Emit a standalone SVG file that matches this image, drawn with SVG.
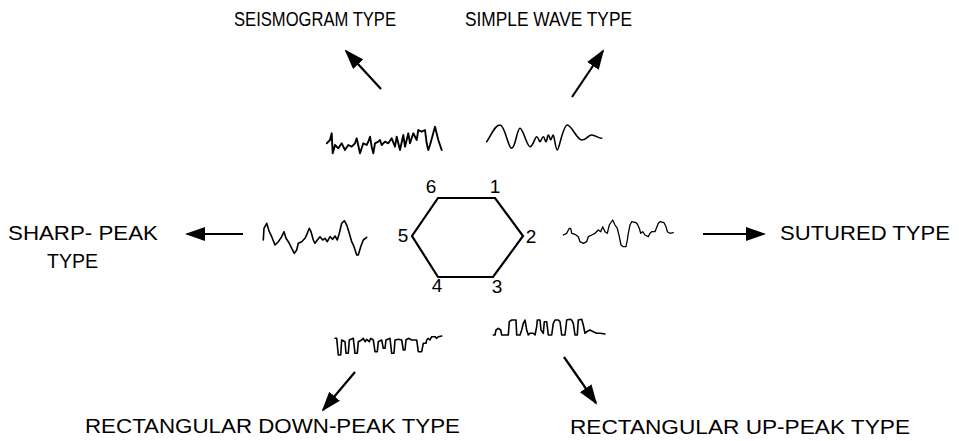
<svg xmlns="http://www.w3.org/2000/svg" width="959" height="441" viewBox="0 0 959 441">
<defs>
<style>
.lbl{font-family:"Liberation Sans","DejaVu Sans",Arial,sans-serif;font-size:20px;fill:#000}
.num{font-family:"Liberation Sans","DejaVu Sans",Arial,sans-serif;font-size:19px;fill:#000;text-anchor:middle}
.wave{fill:none;stroke:#000;stroke-width:1.6;stroke-linejoin:round;stroke-linecap:round}
.arr{fill:none;stroke:#000;stroke-width:2.2;marker-end:url(#ah)}
</style>
<marker id="ah" markerUnits="userSpaceOnUse" viewBox="0 0 20 14" refX="18" refY="7" markerWidth="20" markerHeight="14" orient="auto">
<path d="M0,0 L20,7 L0,14 z" fill="#000"/>
</marker>
</defs>
<rect width="959" height="441" fill="#fff"/>

<g id="hexagon">
<polygon points="438,198 495,198 523,236 493,277 438,277 412,236" fill="none" stroke="#000" stroke-width="2.2" stroke-linejoin="miter"/>
<text class="num" x="431" y="193">6</text>
<text class="num" x="495" y="193">1</text>
<text class="num" x="531" y="243">2</text>
<text class="num" x="403" y="242">5</text>
<text class="num" x="437" y="292">4</text>
<text class="num" x="497" y="293">3</text>
</g>

<g id="seismogram">
<polyline class="wave" style="stroke-width:1.9" points="326.7,143.3 330,140 331.7,133.3 332.7,153.3 335,145 338.3,148.3 341.7,143.3 345,150 348.3,145 351.7,146.7 355,143.3 356.7,138.3 360,153.3 363.3,143.3 366.7,145 368.3,141.7 370,136.7 371.7,146.7 373.3,153.3 375,143.3 378.3,141.7 380,140 381.7,145 385,141.7 388.3,143.3 391.7,138.3 395,146.7 396.7,136.7 400,150 403.3,135 405,146.7 408.3,133.3 410,143.3 413.3,133.3 416.7,140 418.3,130 421.7,131.7 425,130 426.7,143.3 428.3,150 430,145 435,126.7 438.3,140 441.7,150"/>
<text class="lbl" x="234" y="26" textLength="162" lengthAdjust="spacingAndGlyphs">SEISMOGRAM TYPE</text>
</g>

<g id="simple-wave">
<path class="wave" d="M486.7,141.7 C492,134 495,125 500,125 S508,148.3 511.7,148.3 S517,128.3 520,128.3 S527,146.7 530,146.7 S535,136.7 536.7,136.7 S539,141.7 540,141.7 S542,136.7 543.3,136.7 S545,141.7 546,141.7 S547.3,135 548.3,135 S550,140 550.7,140 S552.3,135 553.3,135 S555.5,150 557.3,150 S563,125 567.3,125 S577,140 581.7,140 S588,135 591.7,135 S598,138.3 601.7,138.3"/>
<text class="lbl" x="465" y="26" textLength="167" lengthAdjust="spacingAndGlyphs">SIMPLE WAVE TYPE</text>
</g>

<g id="sharp-peak">
<polyline class="wave" points="263.3,240 264,228.3 266.7,223.3 269.3,231.7 271.7,236.7 275,245 278.3,241.7 281.7,236.7 284,231.7 286,238.3 289.3,243.3 291.7,248.3 294.3,253.3 296.7,250 298.3,243.3 301.7,241.7 305,238.3 307.3,233.3 309.3,228.3 311,231.7 313.3,240 315,243.3 317.3,240 320,236.7 322.7,240 325,238.3 327.3,241.7 330,236.7 332.7,239.3 335,236 337.3,240 339.3,233.3 341.7,223.3 344.3,220.7 346.7,225 349.3,233.3 351.7,241.7 354,246.7 356.7,255 358.3,255 360.7,246.7 363.3,240 366.7,237.3"/>
<text class="lbl" x="8" y="240" textLength="150" lengthAdjust="spacingAndGlyphs">SHARP- PEAK</text>
<text class="lbl" x="47" y="268" textLength="51" lengthAdjust="spacingAndGlyphs">TYPE</text>
</g>

<g id="sutured">
<polyline class="wave" style="stroke-width:1.3" points="563.3,235 566.7,233.3 569.3,228.3 570.7,228.3 571.7,233.3 575,234.3 578.3,236.7 580,241.7 583.3,243.3 586.7,241.7 588.3,236.7 591.7,235 595,233.3 598.3,230 600.7,231.7 602.7,226.7 605,231.7 607.3,233.3 609.3,225 612.7,220 615,225 617.3,228.3 619.3,236.7 621,245 623.3,246.7 626,246.7 627.3,240 628.3,233.3 630,225 631.7,221.7 636,222.7 637.3,224 639.3,228.3 640.7,233.3 642.7,231.7 645,235 648.3,236.7 650,233.3 651.7,231.7 655,231.7 658.3,223.3 660,221.7 664,222.7 666,226.7 667.3,231.7 670,233.3 673.3,232.7"/>
<text class="lbl" x="780" y="240" textLength="170" lengthAdjust="spacingAndGlyphs">SUTURED TYPE</text>
</g>

<g id="rect-down-peak">
<polyline class="wave" points="335,338.3 336.7,338.3 338.3,355 340.7,355 341.7,340 345,341.7 346,353.3 348.3,353.3 349.3,340 353.3,338.3 355,353.3 357.3,353.3 358.3,341.7 361.7,340 363.3,338.3 365,341.7 366.7,339.3 369.3,341.7 370.7,338.3 373.3,340 375,351.7 377.3,351.7 378.3,341.7 381.7,340 383.3,348.3 385,348.3 386,340 390,338.3 391.7,353.3 394,353.3 395,340 398.3,339.3 401.7,340 403.3,350 405,350 406,340 408.3,338.3 411.7,340 416.7,340 418.3,351.7 421.7,351.7 423.3,343.3 426,343.3 426.7,340 428.3,338.3 430,340 431.7,336.7 435,336.7 436.7,338.3 438.3,336.7 441.7,336"/>
<text class="lbl" x="85" y="433" textLength="375" lengthAdjust="spacingAndGlyphs">RECTANGULAR DOWN-PEAK TYPE</text>
</g>

<g id="rect-up-peak">
<polyline class="wave" points="493.3,335 495,335 496,330 498.3,328.3 500.7,330 501.7,335 508.3,335 509.3,321.7 511.7,320 516,320 516.7,335 520,335 521.7,330 523.3,323.3 525,320 526.7,330 528.3,335 530,333.3 533.3,333.3 535,335 536.7,326.7 537.3,320 540,320 541,330 543.3,333.3 544.3,321.7 546.7,321.7 548.3,335 551.7,335 553.3,323.3 555,320 558.3,320 560,321.7 561.7,335 565,335 566.7,320 570,319.3 571.7,320 573.3,323.3 575,335 577.3,335 578.3,320 581.7,319.3 583.3,325 585,333.3 586.7,331.7 590,330 593.3,331.7 596.7,333.3 600,333.3 605,334"/>
<text class="lbl" x="570" y="434" textLength="340" lengthAdjust="spacingAndGlyphs">RECTANGULAR UP-PEAK TYPE</text>
</g>

<g id="connectors">
<line class="arr" x1="381" y1="89" x2="346" y2="51"/>
<line class="arr" x1="572" y1="97" x2="603" y2="51"/>
<line class="arr" x1="243" y1="234" x2="187" y2="234"/>
<line class="arr" x1="703" y1="234" x2="764" y2="234"/>
<line class="arr" x1="355" y1="372" x2="323" y2="410"/>
<line class="arr" x1="564" y1="357" x2="596" y2="403"/>
</g>
</svg>
